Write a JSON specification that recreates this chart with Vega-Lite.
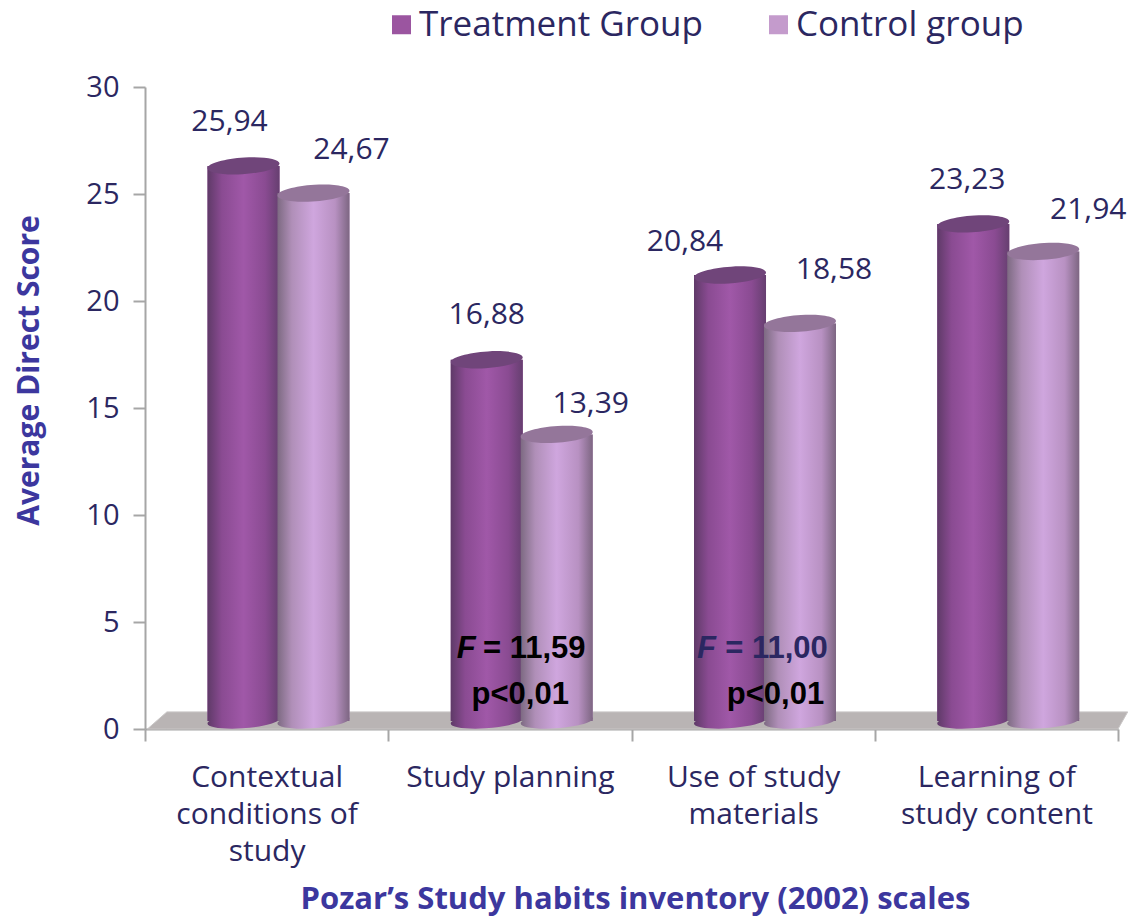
{"$schema":"https://vega.github.io/schema/vega-lite/v6.json","width":973,"height":642,"autosize":{"type":"none"},"padding":{"left":145,"top":87,"right":10,"bottom":187},"background":"white",
"config":{"view":{"stroke":null},"text":{"font":"Open Sans","fontSize":30,"color":"#2b2761"}},
"datasets":{"bars":[
{"scale":"Contextual conditions of study","group":"Treatment Group","value":25.94,"label":"25,94"},
{"scale":"Contextual conditions of study","group":"Control group","value":24.67,"label":"24,67"},
{"scale":"Study planning","group":"Treatment Group","value":16.88,"label":"16,88"},
{"scale":"Study planning","group":"Control group","value":13.39,"label":"13,39"},
{"scale":"Use of study materials","group":"Treatment Group","value":20.84,"label":"20,84"},
{"scale":"Use of study materials","group":"Control group","value":18.58,"label":"18,58"},
{"scale":"Learning of study content","group":"Treatment Group","value":23.23,"label":"23,23"},
{"scale":"Learning of study content","group":"Control group","value":21.94,"label":"21,94"}],
"floor":[{"p":0.01,"a":0,"b":0},{"p":0.09,"a":0,"b":0.8},{"p":4.0,"a":0,"b":0.8},{"p":4.04,"a":0.8,"b":0.8}],
"notes":[
{"scale":"Study planning","y":3.74,"f":"F","rest":"= 11,59"},
{"scale":"Use of study materials","y":3.74,"f":"F","rest":"= 11,00"}],
"pnotes":[
{"scale":"Study planning","y":1.59,"t":"p<0,01"},
{"scale":"Use of study materials","y":1.59,"t":"p<0,01"}]},
"resolve":{"scale":{"x":"independent"}},
"layer":[
{"data":{"name":"floor"},"mark":{"type":"area","color":"#b9b4b4","clip":false,"stroke":"#c9c6c6","strokeWidth":1},"encoding":{"x":{"field":"p","type":"quantitative","scale":{"domain":[0,4],"nice":false,"zero":false},"axis":null},"y":{"field":"a","type":"quantitative","scale":{"domain":[0,30],"nice":false}},"y2":{"field":"b"}}},
{"data":{"name":"bars"},
"encoding":{
"x":{"field":"scale","type":"nominal","sort":null,"scale":{"domain":["Contextual conditions of study","Study planning","Use of study materials","Learning of study content"],"paddingInner":0,"paddingOuter":0},
"axis":{"title":"Pozar’s Study habits inventory (2002) scales","titleFont":"Open Sans","titleFontSize":31,"titleFontWeight":"bold","titleColor":"#3c379e","titleX":490,"titleY":155,"titleAlign":"center","labelAngle":0,"labelFont":"Open Sans","labelFontSize":30,"labelColor":"#2b2761","labelLimit":400,"labelLineHeight":37,"labelPadding":21,"labelBaseline":"top","tickBand":"extent","tickColor":"#a6a6a6","tickWidth":2,"tickSize":12,"domainColor":"#a6a6a6","domainWidth":2,"grid":false,
"labelExpr":"datum.label=='Contextual conditions of study'?['Contextual','conditions of','study']:datum.label=='Use of study materials'?['Use of study','materials']:datum.label=='Learning of study content'?['Learning of','study content']:datum.label"}},
"xOffset":{"field":"group","type":"nominal","sort":null,"scale":{"domain":["Treatment Group","Control group"],"paddingInner":0,"paddingOuter":0.738,"align":0.615}},
"y":{"field":"value","type":"quantitative","scale":{"domain":[0,30],"nice":false},
"axis":{"title":"Average Direct Score","titleFont":"Open Sans","titleFontSize":30,"titleFontWeight":"bold","titleColor":"#3c379e","titleX":-101,"titleY":283,"titleAlign":"center","labelFont":"Open Sans","labelFontSize":29,"labelColor":"#2b2761","labelPadding":14,"values":[0,5,10,15,20,25,30],"tickColor":"#a6a6a6","tickWidth":2,"tickSize":12,"domainColor":"#a6a6a6","domainWidth":2,"grid":false}}},
"layer":[
{"mark":{"type":"bar","size":72,"yOffset":-8,"y2Offset":-8},"encoding":{"y2":{"datum":0},"color":{"field":"group","type":"nominal","sort":null,"scale":{"domain":["Treatment Group","Control group"],"range":["#9b55a0","#c49bcc"]},"legend":{"title":null,"orient":"none","legendX":239,"legendY":-80,"direction":"horizontal","columns":2,"symbolType":"square","symbolSize":361,"symbolStrokeWidth":0,"symbolOpacity":1,"labelFont":"Open Sans","labelFontSize":35,"labelColor":"#2b2761","labelOffset":0,"columnPadding":58,"labelLimit":400,"padding":0}}}},
{"transform":[{"filter":"datum.group=='Treatment Group'"}],"mark":{"type":"point","filled":true,"opacity":1,"size":5184,"yOffset":-8,"shape":"M-1,0.06 A1,0.2 -4 1 1 1,-0.06 A1,0.2 -4 1 1 -1,0.06 Z","color":{"gradient":"linear","x1":0,"x2":1,"y1":0,"y2":0,"stops":[{"offset":0,"color":"#5f3a68"},{"offset":0.2,"color":"#8a4b92"},{"offset":0.5,"color":"#a058a8"},{"offset":0.8,"color":"#8a4b92"},{"offset":1,"color":"#663f70"}]}},"encoding":{"y":{"datum":0}}},
{"transform":[{"filter":"datum.group=='Treatment Group'"}],"mark":{"type":"bar","size":72,"yOffset":-8,"y2Offset":-8,"color":{"gradient":"linear","x1":0,"x2":1,"y1":0,"y2":0,"stops":[{"offset":0,"color":"#5f3a68"},{"offset":0.2,"color":"#8a4b92"},{"offset":0.5,"color":"#a058a8"},{"offset":0.8,"color":"#8a4b92"},{"offset":1,"color":"#663f70"}]}},"encoding":{"y2":{"datum":0}}},
{"transform":[{"filter":"datum.group=='Treatment Group'"}],"mark":{"type":"point","filled":true,"opacity":1,"size":5184,"yOffset":-8,"color":"#70457a","shape":"M-1,0.06 A1,0.23 -4 1 1 1,-0.06 A1,0.23 -4 1 1 -1,0.06 Z"}},
{"transform":[{"filter":"datum.group=='Control group'"}],"mark":{"type":"point","filled":true,"opacity":1,"size":5184,"yOffset":-8,"shape":"M-1,0.06 A1,0.2 -4 1 1 1,-0.06 A1,0.2 -4 1 1 -1,0.06 Z","color":{"gradient":"linear","x1":0,"x2":1,"y1":0,"y2":0,"stops":[{"offset":0,"color":"#7d6a82"},{"offset":0.2,"color":"#b08fb8"},{"offset":0.5,"color":"#cfa6de"},{"offset":0.8,"color":"#b891c2"},{"offset":1,"color":"#7d6682"}]}},"encoding":{"y":{"datum":0}}},
{"transform":[{"filter":"datum.group=='Control group'"}],"mark":{"type":"bar","size":72,"yOffset":-8,"y2Offset":-8,"color":{"gradient":"linear","x1":0,"x2":1,"y1":0,"y2":0,"stops":[{"offset":0,"color":"#7d6a82"},{"offset":0.2,"color":"#b08fb8"},{"offset":0.5,"color":"#cfa6de"},{"offset":0.8,"color":"#b891c2"},{"offset":1,"color":"#7d6682"}]}},"encoding":{"y2":{"datum":0}}},
{"transform":[{"filter":"datum.group=='Control group'"}],"mark":{"type":"point","filled":true,"opacity":1,"size":5184,"yOffset":-8,"color":"#94769a","shape":"M-1,0.06 A1,0.23 -4 1 1 1,-0.06 A1,0.23 -4 1 1 -1,0.06 Z"}},
{"transform":[{"filter":"datum.value==25.94"}],"mark":{"type":"text","dx":-14,"dy":-52},"encoding":{"text":{"field":"label"}}},
{"transform":[{"filter":"datum.value==24.67"}],"mark":{"type":"text","dx":38,"dy":-51},"encoding":{"text":{"field":"label"}}},
{"transform":[{"filter":"datum.value==16.88"}],"mark":{"type":"text","dx":0,"dy":-53},"encoding":{"text":{"field":"label"}}},
{"transform":[{"filter":"datum.value==13.39"}],"mark":{"type":"text","dx":34,"dy":-38},"encoding":{"text":{"field":"label"}}},
{"transform":[{"filter":"datum.value==20.84"}],"mark":{"type":"text","dx":-45,"dy":-41},"encoding":{"text":{"field":"label"}}},
{"transform":[{"filter":"datum.value==18.58"}],"mark":{"type":"text","dx":34,"dy":-61},"encoding":{"text":{"field":"label"}}},
{"transform":[{"filter":"datum.value==23.23"}],"mark":{"type":"text","dx":-6,"dy":-52},"encoding":{"text":{"field":"label"}}},
{"transform":[{"filter":"datum.value==21.94"}],"mark":{"type":"text","dx":45,"dy":-49},"encoding":{"text":{"field":"label"}}},
{"data":{"name":"notes"},"transform":[{"filter":"datum.rest=='= 11,59'"}],"mark":{"type":"text","font":"Liberation Sans","fontSize":31,"fontWeight":"bold","fontStyle":"italic","color":"#000000","dx":78},"encoding":{"xOffset":{"value":0},"y":{"field":"y","type":"quantitative"},"text":{"field":"f"}}},
{"data":{"name":"notes"},"transform":[{"filter":"datum.rest=='= 11,59'"}],"mark":{"type":"text","font":"Liberation Sans","fontSize":31,"fontWeight":"bold","color":"#000000","dx":146},"encoding":{"xOffset":{"value":0},"y":{"field":"y","type":"quantitative"},"text":{"field":"rest"}}},
{"data":{"name":"notes"},"transform":[{"filter":"datum.rest=='= 11,00'"}],"mark":{"type":"text","font":"Liberation Sans","fontSize":31,"fontWeight":"bold","fontStyle":"italic","color":"#2b2761","dx":75},"encoding":{"xOffset":{"value":0},"y":{"field":"y","type":"quantitative"},"text":{"field":"f"}}},
{"data":{"name":"notes"},"transform":[{"filter":"datum.rest=='= 11,00'"}],"mark":{"type":"text","font":"Liberation Sans","fontSize":31,"fontWeight":"bold","color":"#2b2761","dx":145},"encoding":{"xOffset":{"value":0},"y":{"field":"y","type":"quantitative"},"text":{"field":"rest"}}},
{"data":{"name":"pnotes"},"transform":[{"filter":"datum.scale=='Study planning'"}],"mark":{"type":"text","font":"Liberation Sans","fontSize":31,"fontWeight":"bold","color":"#000000","dx":132},"encoding":{"xOffset":{"value":0},"y":{"field":"y","type":"quantitative"},"text":{"field":"t"}}},
{"data":{"name":"pnotes"},"transform":[{"filter":"datum.scale=='Use of study materials'"}],"mark":{"type":"text","font":"Liberation Sans","fontSize":31,"fontWeight":"bold","color":"#000000","dx":144},"encoding":{"xOffset":{"value":0},"y":{"field":"y","type":"quantitative"},"text":{"field":"t"}}}
]}
]}
